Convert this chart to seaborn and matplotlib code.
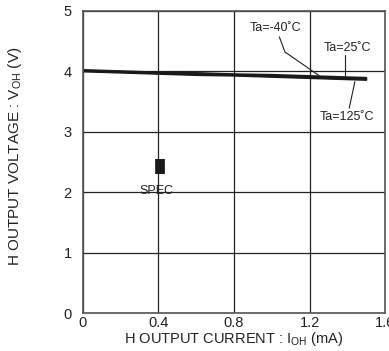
import matplotlib
matplotlib.use("Agg")
import matplotlib.pyplot as plt
import seaborn as sns
import pandas as pd

# H output voltage vs H output current, three temperatures
current = [0.0, 0.1, 0.2, 0.4, 0.6, 0.8, 1.0, 1.2, 1.4, 1.5]
v_m40 = [4.02, 4.01, 4.00, 3.98, 3.97, 3.95, 3.94, 3.92, 3.90, 3.89]
v_25 = [4.01, 4.00, 3.99, 3.97, 3.96, 3.94, 3.92, 3.90, 3.88, 3.87]
v_125 = [4.00, 3.99, 3.98, 3.96, 3.94, 3.93, 3.91, 3.89, 3.87, 3.86]
temps = ["Ta=-40˚C", "Ta=25˚C", "Ta=125˚C"]

spec_x = 0.41
spec_lo, spec_hi = 2.30, 2.55

df = pd.concat([
    pd.DataFrame({"I": current, "V": v, "Ta": t})
    for v, t in zip([v_m40, v_25, v_125], temps)
])

sns.set_style("white")
plt.rcParams["font.family"] = ["Liberation Sans", "DejaVu Sans"]
plt.rcParams["mathtext.fontset"] = "custom"
plt.rcParams["mathtext.rm"] = "Liberation Sans"

fig, ax = plt.subplots(figsize=(3.89, 3.51), dpi=100)
fig.subplots_adjust(left=0.213, right=0.990, top=0.969, bottom=0.108)

sns.lineplot(data=df, x="I", y="V", hue="Ta", palette=["#1a1a1a"] * 3,
             linewidth=1.6, legend=False, ax=ax)

# SPEC bar
ax.plot([spec_x, spec_x], [spec_lo, spec_hi], color="#1a1a1a", linewidth=7,
        solid_capstyle="butt")
ax.text(0.39, 2.02, "SPEC", ha="center", va="center", fontsize=9, color="#222")

# leader lines to curves
ax.plot([1.04, 1.07, 1.25], [4.57, 4.32, 3.93], color="#222", lw=0.8)
ax.text(1.02, 4.72, temps[0], ha="center", va="center", fontsize=9, color="#222")
ax.plot([1.39, 1.39], [4.27, 3.90], color="#222", lw=0.8)
ax.text(1.40, 4.39, temps[1], ha="center", va="center", fontsize=9, color="#222")
ax.plot([1.44, 1.41], [3.83, 3.39], color="#222", lw=0.8)
ax.text(1.40, 3.24, temps[2], ha="center", va="center", fontsize=9, color="#222")

ax.set_xlim(0, 1.6)
ax.set_ylim(0, 5)
ax.set_xticks([0, 0.4, 0.8, 1.2, 1.6])
ax.set_xticklabels(["0", "0.4", "0.8", "1.2", "1.6"])
ax.set_yticks([0, 1, 2, 3, 4, 5])
ax.tick_params(axis="both", length=0, labelsize=10.5, colors="#222")
ax.tick_params(axis="y", pad=8)
ax.tick_params(axis="x", pad=2)
ax.grid(True, color="#222", linewidth=0.9)
for s in ax.spines.values():
    s.set_color("#555")
    s.set_linewidth(1.2)

ax.set_xlabel(r"H OUTPUT CURRENT : I$_{\mathrm{OH}}$ (mA)", fontsize=10.5,
              color="#222", labelpad=0)
ax.set_ylabel(r"H OUTPUT VOLTAGE : V$_{\mathrm{OH}}$ (V)", fontsize=11,
              color="#222")
ax.yaxis.set_label_coords(-0.195, 0.52)

fig.savefig("out.png", dpi=100)
